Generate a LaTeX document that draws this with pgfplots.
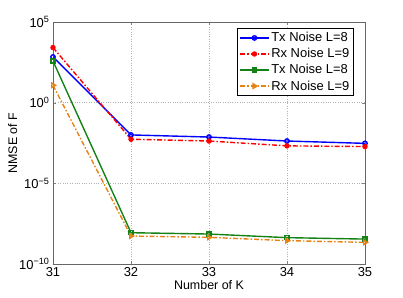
\documentclass[border=0pt]{standalone}
\usepackage{pgfplots}
\pgfplotsset{compat=1.18}
\usepackage{fontspec}
\setmainfont{Liberation Sans}
\definecolor{mgreen}{RGB}{20,130,20}
\definecolor{morange}{RGB}{230,130,20}
\begin{document}
\begin{tikzpicture}
\path[use as bounding box] (-53bp,-34bp) rectangle (350bp,264bp);
\begin{axis}[
  at={(0,0)}, anchor=south west,
  scale only axis, width=312bp, height=242bp,
  ymode=log, xmin=31, xmax=35, ymin=1e-10, ymax=1e5,
  xtick={31,32,33,34,35},
  ytick={1e-10,1e-5,1,1e5},
  yticklabels={10\textsuperscript{−10},10\textsuperscript{−5},10\textsuperscript{0},10\textsuperscript{5}},
  yminorticks=false,
  /pgf/number format/assume math mode=true,
  tick label style={font=\fontsize{13}{15}\selectfont},
  label style={font=\fontsize{12.5}{15}\selectfont},
  xlabel={Number of K}, ylabel={NMSE of F},
  xlabel style={yshift=3pt},
  ylabel style={yshift=-5pt},
  xticklabel style={yshift=0pt},
  grid=major, major grid style={gray!60, dotted, line width=0.6pt},
  tick align=inside, major tick length=3pt,
  axis line style={black!60},
  legend pos=north east,
  legend style={font=\fontsize{13}{15}\selectfont, draw=black, line width=0.5pt, row sep=1.2pt, inner sep=2pt, xshift=-2pt, yshift=1pt},
  legend cell align=left,
  legend image code/.code={\draw[mark repeat=2,mark phase=2,#1] plot coordinates {(0cm,0cm) (0.5cm,0cm) (1cm,0cm)};},
]
\addplot[blue, line width=1.4pt, mark=o, mark size=2.2pt, mark options={solid}] coordinates {(31,6.8e2) (32,1.0e-2) (33,7.4e-3) (34,4.2e-3) (35,3.0e-3)};
\addlegendentry{Tx Noise L=8}
\addplot[red, line width=1.4pt, dash pattern=on 5pt off 2pt on 1.5pt off 2pt, mark=*, mark size=2pt, mark options={solid}] coordinates {(31,2.6e3) (32,5.4e-3) (33,4.2e-3) (34,2.1e-3) (35,1.9e-3)};
\addlegendentry{Rx Noise L=9}
\addplot[mgreen, line width=1.4pt, mark=square, mark size=2pt, mark options={solid}] coordinates {(31,3.8e2) (32,8.7e-9) (33,7.2e-9) (34,4.3e-9) (35,3.5e-9)};
\addlegendentry{Tx Noise L=8}
\addplot[morange, line width=1.4pt, dash pattern=on 5pt off 2pt on 1.5pt off 2pt, mark=triangle, mark size=2.6pt, mark options={solid, rotate=-90}] coordinates {(31,1.2e1) (32,5.4e-9) (33,4.5e-9) (34,2.8e-9) (35,2.2e-9)};
\addlegendentry{Rx Noise L=9}
\end{axis}
\end{tikzpicture}
\end{document}
